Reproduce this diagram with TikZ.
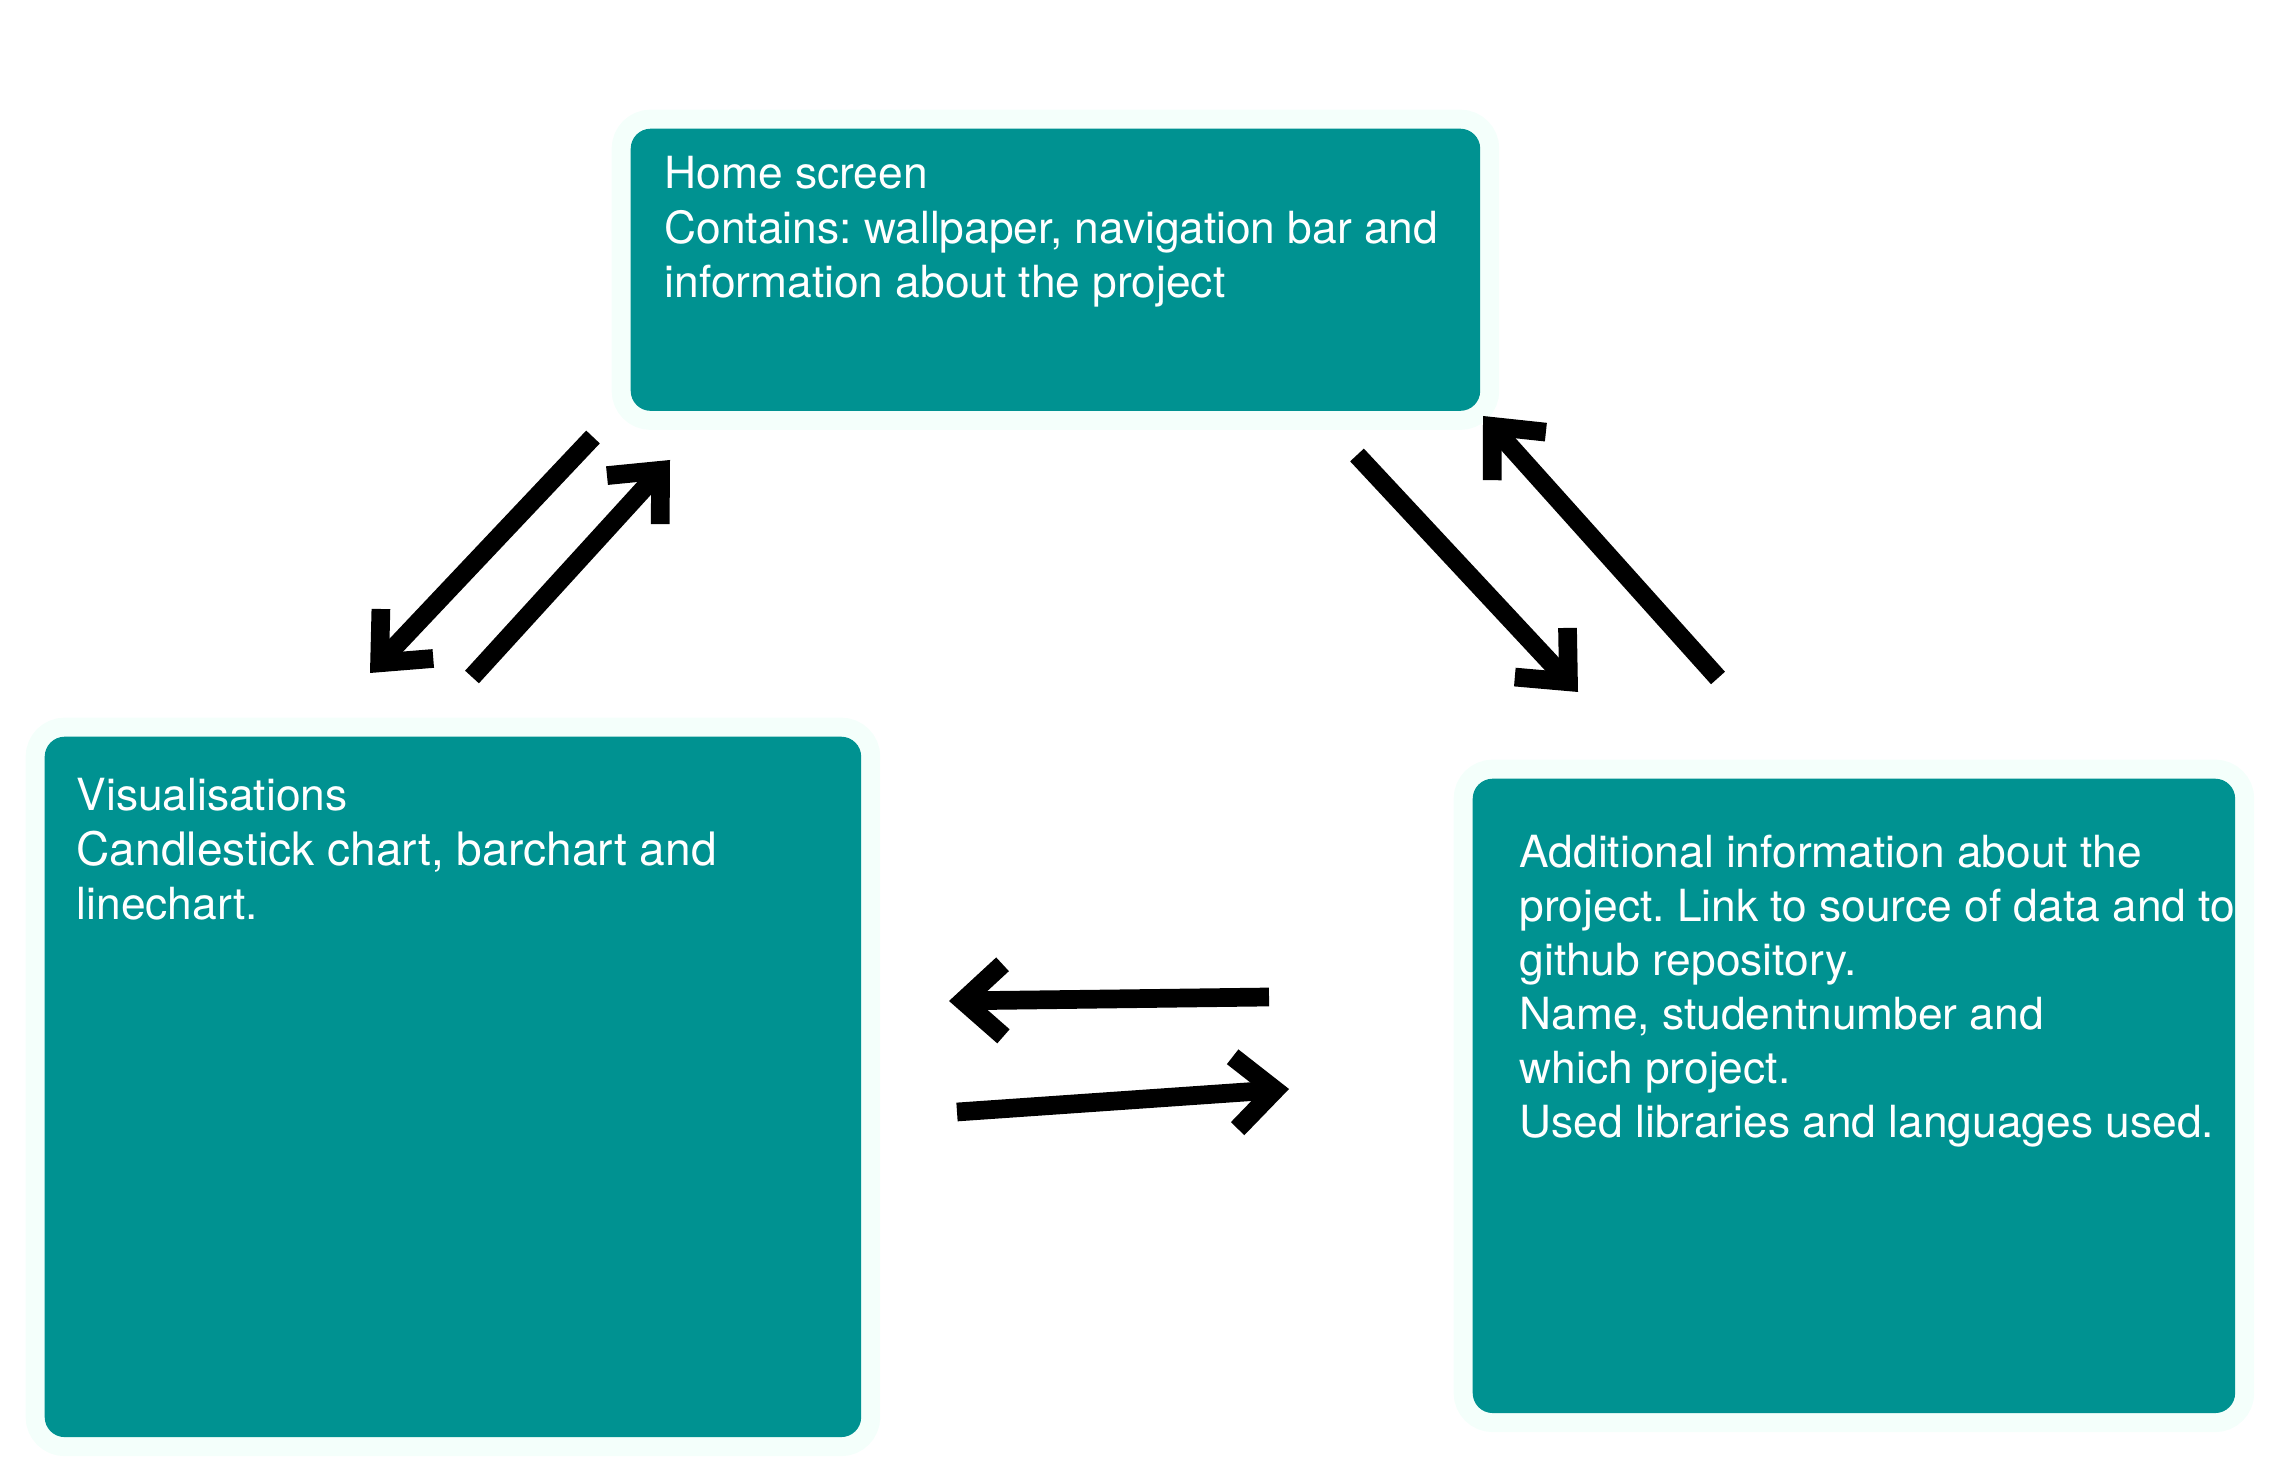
\documentclass[tikz,border=0pt]{standalone}
\usepackage{fontspec}
\setmainfont{TeX Gyre Heros}
\usepackage{tikz}
\usetikzlibrary{arrows.meta, calc}
\definecolor{boxteal}{RGB}{0,146,145}
\definecolor{boxhalo}{RGB}{244,255,251}
\frenchspacing

\begin{document}
\begin{tikzpicture}[x=0.01cm, y=-0.01cm,
  screen/.style={fill=boxteal, rounded corners=0.2cm, inner sep=0pt, anchor=north west,
    preaction={draw=boxhalo, line width=0.38cm}},
  txt/.style={text=white, align=left, anchor=north west, inner sep=0pt,
    font=\fontsize{12.6}{15.36}\selectfont},
  flow/.style={line width=0.187cm, -{Straight Barb[length=0.4cm, width=0.72cm]}}]
\useasboundingbox (0,0) rectangle (2278,1474);
% screens
\node[screen, minimum width=8.49cm, minimum height=2.82cm] (home) at (630,128) {};
\node[screen, minimum width=8.16cm, minimum height=7.00cm] (vis) at (44,736) {};
\node[screen, minimum width=7.62cm, minimum height=6.34cm] (info) at (1472,778) {};
\node[txt] (hometext) at ($(home.north west)+(34,28)$)
  {Home screen\\Contains: wallpaper, navigation bar and\\information about the project};
\node[txt] (vistext) at ($(vis.north west)+(32,42)$)
  {Visualisations\\\fontsize{13.1}{15.9}\selectfont Candlestick chart, barchart and\\linechart.};
\node[txt] (infotext) at ($(info.north west)+(47,56)$)
  {Additional information about the\\project. Link to source of data and to\\github repository.\\Name, studentnumber and\\which project.\\Used libraries and languages used.};
% arrows
\coordinate (hv1) at (593,437);
\coordinate (hv2) at (370,673);
\coordinate (vh1) at (472,677);
\coordinate (vh2) at (670,460);
\coordinate (hi1) at (1357,455);
\coordinate (hi2) at (1578,692);
\coordinate (ih1) at (1718,678);
\coordinate (ih2) at (1483,416);
\coordinate (iv1) at (1269,997);
\coordinate (iv2) at (949,1001);
\coordinate (vi1) at (957,1112);
\coordinate (vi2) at (1289,1089);
\draw[flow] (hv1) -- (hv2);
\draw[flow] (vh1) -- (vh2);
\draw[flow] (hi1) -- (hi2);
\draw[flow] (ih1) -- (ih2);
\draw[flow] (iv1) -- (iv2);
\draw[flow] (vi1) -- (vi2);
\end{tikzpicture}
\end{document}
